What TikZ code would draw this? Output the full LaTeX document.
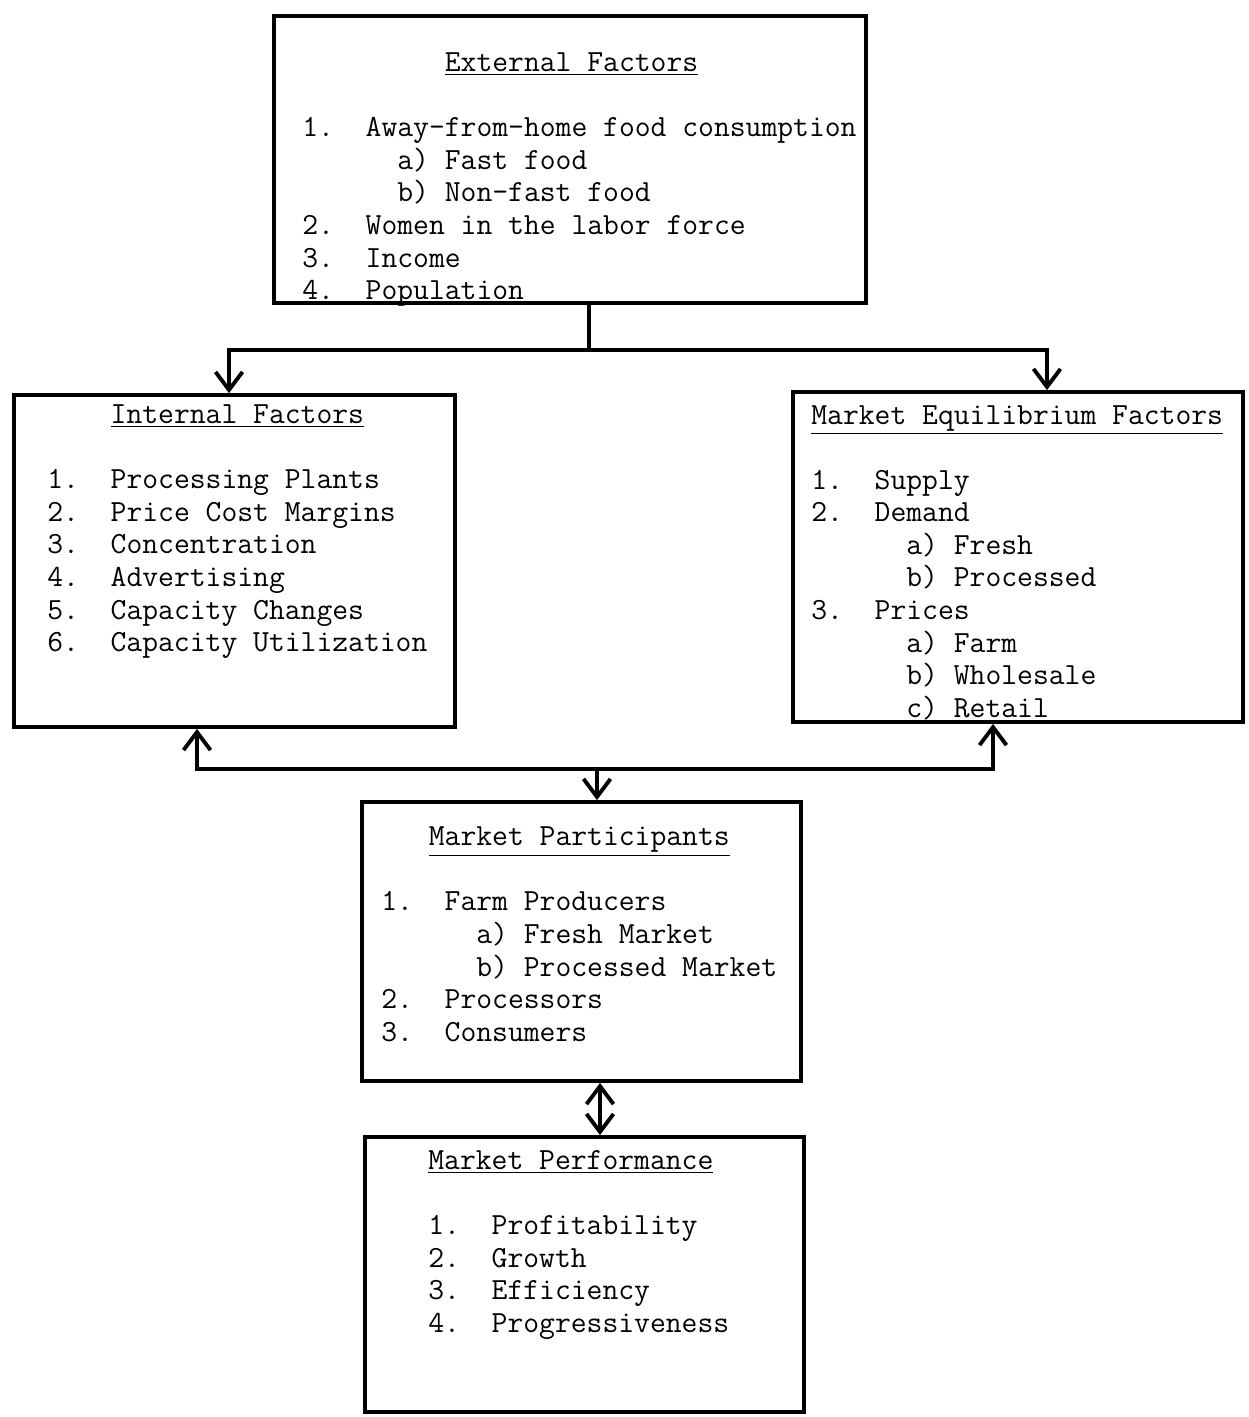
\documentclass[tikz,border=0pt]{standalone}
\usepackage{fontspec}
\setmonofont{Latin Modern Mono}
\usetikzlibrary{arrows.meta}
\newcommand{\tabcols}[1]{\hspace*{#1\fontcharwd\font`M}}
\frenchspacing

\begin{document}
\begin{tikzpicture}[
      x=0.02cm, y=-0.02cm,
      >={Straight Barb[length=0.36cm, width=0.54cm]},
      box/.style={draw, line width=2.2pt, rectangle, inner sep=0pt},
      list/.style={anchor=base west, inner sep=0pt, align=left,
                   font=\ttfamily\fontsize{17.5pt}{18.5pt}\selectfont},
      link/.style={line width=2.2pt},
      arrow/.style={->, line width=2.2pt},
      twoway/.style={<->, line width=2.2pt},
   ]
   \useasboundingbox (0,0) rectangle (1248,1417);

   % boxes
   \node[box, minimum width=11.84cm, minimum height=5.74cm] (ext)  at (570,159.5)  {};
   \node[box, minimum width=8.82cm,  minimum height=6.64cm] (int)  at (234.5,561)  {};
   \node[box, minimum width=9.0cm,   minimum height=6.6cm]  (meq)  at (1018,557)   {};
   \node[box, minimum width=8.78cm,  minimum height=5.58cm] (part) at (581.5,941.5) {};
   \node[box, minimum width=8.78cm,  minimum height=5.5cm]  (perf) at (584.5,1274.5) {};

   % box texts (placed at the baseline of their last line)
   \node[list] (extText) at (302,299.5) {\tabcols{9}\underline{External Factors}\\[18.5pt]
      1.~~Away-from-home food consumption\\
      \tabcols{6}a)~Fast food\\
      \tabcols{6}b)~Non-fast food\\
      2.~~Women in the labor force\\
      3.~~Income\\
      4.~~Population};
   \node[list] (intText) at (47,651.5) {\tabcols{4}\underline{Internal Factors}\\[18.5pt]
      1.~~Processing Plants\\
      2.~~Price Cost Margins\\
      3.~~Concentration\\
      4.~~Advertising\\
      5.~~Capacity Changes\\
      6.~~Capacity Utilization};
   \node[list] (meqText) at (811,717) {\underline{Market Equilibrium Factors}\\[18.5pt]
      1.~~Supply\\
      2.~~Demand\\
      \tabcols{6}a)~Fresh\\
      \tabcols{6}b)~Processed\\
      3.~~Prices\\
      \tabcols{6}a)~Farm\\
      \tabcols{6}b)~Wholesale\\
      \tabcols{6}c)~Retail};
   \node[list] (partText) at (381,1041) {\tabcols{3}\underline{Market Participants}\\[18.5pt]
      1.~~Farm Producers\\
      \tabcols{6}a)~Fresh Market\\
      \tabcols{6}b)~Processed Market\\
      2.~~Processors\\
      3.~~Consumers};
   \node[list] (perfText) at (428,1332) {\underline{Market Performance}\\[18.5pt]
      1.~~Profitability\\
      2.~~Growth\\
      3.~~Efficiency\\
      4.~~Progressiveness};

   % external factors split
   \coordinate (topsplit) at (589,350);
   \coordinate (topleft)  at (229,350);
   \coordinate (topright) at (1047,350);
   \draw[link]  (ext.south -| topsplit) -- (topsplit);
   \draw[arrow] (topsplit) -- (topleft) -- (topleft |- int.north);
   \draw[arrow] (topsplit) -- (topright) -- (topright |- meq.north);

   % feedback to participants
   \coordinate (midsplit) at (597,769);
   \coordinate (midleft)  at (197,769);
   \coordinate (midright) at (993,769);
   \draw[arrow] (midsplit) -- (midleft) -- (midleft |- int.south);
   \draw[arrow] (midsplit) -- (midright) -- (midright |- meq.south);
   \draw[arrow] (midsplit) -- (midsplit |- part.north);

   % participants <-> performance
   \coordinate (lowlink) at (600,1110);
   \draw[twoway] (lowlink |- part.south) -- (lowlink |- perf.north);
\end{tikzpicture}
\end{document}
